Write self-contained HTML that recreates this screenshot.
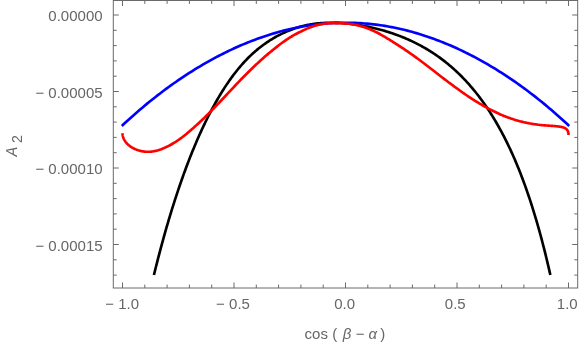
<!DOCTYPE html>
<html><head><meta charset="utf-8"><title>plot</title>
<style>html,body{margin:0;padding:0;background:#fff;}svg{display:block;will-change:transform;}text{font-family:"Liberation Sans",sans-serif;white-space:pre;}</style></head>
<body><svg width="582" height="345" viewBox="0 0 582 345">
<rect width="582" height="345" fill="#fff"/>
<rect x="113.3" y="0.5" width="464.40000000000003" height="287.5" fill="none" stroke="#6a6a6a" stroke-width="1"/>
<path d="M122.50 288.0 v-5.5 M122.50 0.5 v5.5 M144.80 288.0 v-3.4 M144.80 0.5 v3.4 M167.10 288.0 v-3.4 M167.10 0.5 v3.4 M189.40 288.0 v-3.4 M189.40 0.5 v3.4 M211.70 288.0 v-3.4 M211.70 0.5 v3.4 M234.00 288.0 v-5.5 M234.00 0.5 v5.5 M256.30 288.0 v-3.4 M256.30 0.5 v3.4 M278.60 288.0 v-3.4 M278.60 0.5 v3.4 M300.90 288.0 v-3.4 M300.90 0.5 v3.4 M323.20 288.0 v-3.4 M323.20 0.5 v3.4 M345.50 288.0 v-5.5 M345.50 0.5 v5.5 M367.80 288.0 v-3.4 M367.80 0.5 v3.4 M390.10 288.0 v-3.4 M390.10 0.5 v3.4 M412.40 288.0 v-3.4 M412.40 0.5 v3.4 M434.70 288.0 v-3.4 M434.70 0.5 v3.4 M457.00 288.0 v-5.5 M457.00 0.5 v5.5 M479.30 288.0 v-3.4 M479.30 0.5 v3.4 M501.60 288.0 v-3.4 M501.60 0.5 v3.4 M523.90 288.0 v-3.4 M523.90 0.5 v3.4 M546.20 288.0 v-3.4 M546.20 0.5 v3.4 M568.50 288.0 v-5.5 M568.50 0.5 v5.5 M113.3 15.00 h5.5 M577.7 15.00 h-5.5 M113.3 30.30 h3.4 M577.7 30.30 h-3.4 M113.3 45.60 h3.4 M577.7 45.60 h-3.4 M113.3 60.90 h3.4 M577.7 60.90 h-3.4 M113.3 76.20 h3.4 M577.7 76.20 h-3.4 M113.3 91.50 h5.5 M577.7 91.50 h-5.5 M113.3 106.80 h3.4 M577.7 106.80 h-3.4 M113.3 122.10 h3.4 M577.7 122.10 h-3.4 M113.3 137.40 h3.4 M577.7 137.40 h-3.4 M113.3 152.70 h3.4 M577.7 152.70 h-3.4 M113.3 168.00 h5.5 M577.7 168.00 h-5.5 M113.3 183.30 h3.4 M577.7 183.30 h-3.4 M113.3 198.60 h3.4 M577.7 198.60 h-3.4 M113.3 213.90 h3.4 M577.7 213.90 h-3.4 M113.3 229.20 h3.4 M577.7 229.20 h-3.4 M113.3 244.50 h5.5 M577.7 244.50 h-5.5 M113.3 259.80 h3.4 M577.7 259.80 h-3.4 M113.3 275.10 h3.4 M577.7 275.10 h-3.4" fill="none" stroke="#6a6a6a" stroke-width="1"/>
<path d="M153.92 275.00 L154.91 270.97 L155.90 266.99 L156.90 263.06 L157.89 259.18 L158.88 255.35 L159.88 251.57 L160.87 247.84 L161.87 244.16 L162.86 240.53 L163.85 236.95 L164.85 233.41 L165.84 229.91 L166.83 226.46 L167.83 223.06 L168.82 219.70 L169.81 216.38 L170.81 213.10 L171.80 209.87 L172.79 206.68 L173.79 203.53 L174.78 200.42 L175.78 197.35 L176.77 194.32 L177.76 191.33 L178.76 188.37 L179.75 185.46 L180.74 182.58 L181.74 179.74 L182.73 176.94 L183.72 174.17 L184.72 171.44 L185.71 168.74 L186.70 166.08 L187.70 163.46 L188.69 160.86 L189.69 158.31 L190.68 155.78 L191.67 153.29 L192.67 150.84 L193.66 148.41 L194.65 146.02 L195.65 143.66 L196.64 141.33 L197.63 139.03 L198.63 136.77 L199.62 134.53 L200.62 132.33 L201.61 130.15 L202.60 128.01 L203.60 125.90 L204.59 123.81 L205.58 121.75 L206.58 119.73 L207.57 117.73 L208.56 115.76 L209.56 113.81 L210.55 111.90 L211.54 110.01 L212.54 108.15 L213.53 106.32 L214.53 104.52 L215.52 102.74 L216.51 100.99 L217.51 99.26 L218.50 97.56 L219.49 95.89 L220.49 94.24 L221.48 92.62 L222.47 91.02 L223.47 89.45 L224.46 87.90 L225.45 86.38 L226.45 84.88 L227.44 83.41 L228.44 81.96 L229.43 80.53 L230.42 79.13 L231.42 77.75 L232.41 76.40 L233.40 75.07 L234.40 73.76 L235.39 72.47 L236.38 71.21 L237.38 69.97 L238.37 68.75 L239.36 67.56 L240.36 66.39 L241.35 65.24 L242.35 64.11 L243.34 63.00 L244.33 61.91 L245.33 60.85 L246.32 59.80 L247.31 58.78 L248.31 57.77 L249.30 56.79 L250.29 55.83 L251.29 54.88 L252.28 53.96 L253.27 53.05 L254.27 52.16 L255.26 51.29 L256.26 50.44 L257.25 49.61 L258.24 48.79 L259.24 47.99 L260.23 47.21 L261.22 46.45 L262.22 45.70 L263.21 44.96 L264.20 44.24 L265.20 43.54 L266.19 42.85 L267.18 42.18 L268.18 41.52 L269.17 40.87 L270.17 40.24 L271.16 39.62 L272.15 39.01 L273.15 38.42 L274.14 37.84 L275.13 37.27 L276.13 36.71 L277.12 36.17 L278.11 35.64 L279.11 35.12 L280.10 34.61 L281.09 34.11 L282.09 33.63 L283.08 33.16 L284.08 32.69 L285.07 32.24 L286.06 31.80 L287.06 31.38 L288.05 30.96 L289.04 30.55 L290.04 30.16 L291.03 29.77 L292.02 29.40 L293.02 29.04 L294.01 28.69 L295.00 28.35 L296.00 28.02 L296.99 27.71 L297.99 27.40 L298.98 27.10 L299.97 26.82 L300.97 26.54 L301.96 26.28 L302.95 26.03 L303.95 25.79 L304.94 25.55 L305.93 25.33 L306.93 25.12 L307.92 24.92 L308.92 24.73 L309.91 24.55 L310.90 24.37 L311.90 24.21 L312.89 24.06 L313.88 23.92 L314.88 23.78 L315.87 23.66 L316.86 23.54 L317.86 23.43 L318.85 23.33 L319.84 23.24 L320.84 23.16 L321.83 23.08 L322.83 23.02 L323.82 22.96 L324.81 22.91 L325.81 22.87 L326.80 22.83 L327.79 22.80 L328.79 22.78 L329.78 22.76 L330.77 22.76 L331.77 22.76 L332.76 22.76 L333.75 22.78 L334.75 22.79 L335.74 22.82 L336.74 22.85 L337.73 22.89 L338.72 22.93 L339.72 22.98 L340.71 23.04 L341.70 23.10 L342.70 23.17 L343.69 23.24 L344.68 23.32 L345.68 23.41 L346.67 23.50 L347.66 23.60 L348.66 23.70 L349.65 23.80 L350.65 23.92 L351.64 24.04 L352.63 24.16 L353.63 24.29 L354.62 24.42 L355.61 24.56 L356.61 24.70 L357.60 24.85 L358.59 25.01 L359.59 25.17 L360.58 25.33 L361.57 25.50 L362.57 25.68 L363.56 25.86 L364.56 26.04 L365.55 26.24 L366.54 26.43 L367.54 26.63 L368.53 26.84 L369.52 27.05 L370.52 27.26 L371.51 27.49 L372.50 27.71 L373.50 27.94 L374.49 28.18 L375.48 28.42 L376.48 28.67 L377.47 28.92 L378.47 29.18 L379.46 29.44 L380.45 29.71 L381.45 29.98 L382.44 30.26 L383.43 30.54 L384.43 30.83 L385.42 31.13 L386.41 31.43 L387.41 31.74 L388.40 32.05 L389.39 32.37 L390.39 32.69 L391.38 33.02 L392.38 33.35 L393.37 33.69 L394.36 34.04 L395.36 34.39 L396.35 34.75 L397.34 35.12 L398.34 35.49 L399.33 35.87 L400.32 36.25 L401.32 36.64 L402.31 37.04 L403.30 37.44 L404.30 37.85 L405.29 38.27 L406.29 38.70 L407.28 39.13 L408.27 39.56 L409.27 40.01 L410.26 40.46 L411.25 40.92 L412.25 41.39 L413.24 41.86 L414.23 42.35 L415.23 42.84 L416.22 43.33 L417.22 43.84 L418.21 44.35 L419.20 44.87 L420.20 45.40 L421.19 45.94 L422.18 46.49 L423.18 47.04 L424.17 47.61 L425.16 48.18 L426.16 48.76 L427.15 49.35 L428.14 49.95 L429.14 50.56 L430.13 51.18 L431.13 51.81 L432.12 52.44 L433.11 53.09 L434.11 53.75 L435.10 54.41 L436.09 55.09 L437.09 55.78 L438.08 56.48 L439.07 57.19 L440.07 57.91 L441.06 58.64 L442.05 59.38 L443.05 60.13 L444.04 60.90 L445.04 61.67 L446.03 62.46 L447.02 63.26 L448.02 64.07 L449.01 64.90 L450.00 65.73 L451.00 66.58 L451.99 67.44 L452.98 68.32 L453.98 69.20 L454.97 70.11 L455.96 71.02 L456.96 71.95 L457.95 72.89 L458.95 73.85 L459.94 74.82 L460.93 75.80 L461.93 76.80 L462.92 77.82 L463.91 78.85 L464.91 79.90 L465.90 80.96 L466.89 82.03 L467.89 83.13 L468.88 84.24 L469.87 85.37 L470.87 86.51 L471.86 87.67 L472.86 88.85 L473.85 90.05 L474.84 91.26 L475.84 92.50 L476.83 93.75 L477.82 95.02 L478.82 96.31 L479.81 97.62 L480.80 98.95 L481.80 100.30 L482.79 101.67 L483.78 103.06 L484.78 104.48 L485.77 105.91 L486.77 107.37 L487.76 108.85 L488.75 110.35 L489.75 111.88 L490.74 113.43 L491.73 115.00 L492.73 116.60 L493.72 118.22 L494.71 119.87 L495.71 121.55 L496.70 123.25 L497.69 124.98 L498.69 126.74 L499.68 128.52 L500.68 130.34 L501.67 132.18 L502.66 134.05 L503.66 135.95 L504.65 137.89 L505.64 139.85 L506.64 141.85 L507.63 143.88 L508.62 145.95 L509.62 148.04 L510.61 150.18 L511.60 152.35 L512.60 154.55 L513.59 156.79 L514.59 159.07 L515.58 161.39 L516.57 163.75 L517.57 166.15 L518.56 168.59 L519.55 171.07 L520.55 173.60 L521.54 176.17 L522.53 178.78 L523.53 181.44 L524.52 184.15 L525.52 186.91 L526.51 189.71 L527.50 192.56 L528.50 195.47 L529.49 198.43 L530.48 201.44 L531.48 204.50 L532.47 207.63 L533.46 210.80 L534.46 214.04 L535.45 217.34 L536.44 220.70 L537.44 224.12 L538.43 227.61 L539.43 231.16 L540.42 234.77 L541.41 238.46 L542.41 242.22 L543.40 246.05 L544.39 249.95 L545.39 253.93 L546.38 257.98 L547.37 262.11 L548.37 266.32 L549.36 270.62 L550.35 275.00" fill="none" stroke="#000" stroke-width="2.65" stroke-linejoin="round"/>
<path d="M121.83 125.94 L124.08 123.84 L126.33 121.76 L128.57 119.70 L130.82 117.67 L133.07 115.67 L135.32 113.68 L137.57 111.73 L139.81 109.79 L142.06 107.89 L144.31 106.00 L146.56 104.14 L148.81 102.30 L151.05 100.48 L153.30 98.69 L155.55 96.92 L157.80 95.17 L160.05 93.44 L162.29 91.74 L164.54 90.05 L166.79 88.39 L169.04 86.75 L171.29 85.14 L173.53 83.54 L175.78 81.96 L178.03 80.41 L180.28 78.88 L182.53 77.37 L184.77 75.88 L187.02 74.41 L189.27 72.96 L191.52 71.53 L193.76 70.13 L196.01 68.74 L198.26 67.38 L200.51 66.03 L202.76 64.71 L205.00 63.40 L207.25 62.12 L209.50 60.86 L211.75 59.62 L214.00 58.40 L216.24 57.19 L218.49 56.01 L220.74 54.85 L222.99 53.71 L225.24 52.59 L227.48 51.49 L229.73 50.42 L231.98 49.36 L234.23 48.32 L236.48 47.30 L238.72 46.30 L240.97 45.33 L243.22 44.37 L245.47 43.43 L247.72 42.52 L249.96 41.62 L252.21 40.75 L254.46 39.89 L256.71 39.06 L258.95 38.24 L261.20 37.45 L263.45 36.68 L265.70 35.92 L267.95 35.19 L270.19 34.48 L272.44 33.79 L274.69 33.12 L276.94 32.47 L279.19 31.84 L281.43 31.24 L283.68 30.65 L285.93 30.08 L288.18 29.54 L290.43 29.01 L292.67 28.51 L294.92 28.03 L297.17 27.56 L299.42 27.12 L301.67 26.70 L303.91 26.30 L306.16 25.92 L308.41 25.56 L310.66 25.23 L312.91 24.91 L315.15 24.62 L317.40 24.34 L319.65 24.09 L321.90 23.86 L324.14 23.65 L326.39 23.46 L328.64 23.29 L330.89 23.14 L333.14 23.02 L335.38 22.91 L337.63 22.83 L339.88 22.76 L342.13 22.72 L344.38 22.70 L346.62 22.70 L348.87 22.72 L351.12 22.76 L353.37 22.83 L355.62 22.91 L357.86 23.02 L360.11 23.14 L362.36 23.29 L364.61 23.46 L366.86 23.65 L369.10 23.86 L371.35 24.09 L373.60 24.34 L375.85 24.62 L378.09 24.91 L380.34 25.23 L382.59 25.56 L384.84 25.92 L387.09 26.30 L389.33 26.70 L391.58 27.12 L393.83 27.56 L396.08 28.03 L398.33 28.51 L400.57 29.01 L402.82 29.54 L405.07 30.08 L407.32 30.65 L409.57 31.24 L411.81 31.84 L414.06 32.47 L416.31 33.12 L418.56 33.79 L420.81 34.48 L423.05 35.19 L425.30 35.92 L427.55 36.68 L429.80 37.45 L432.05 38.24 L434.29 39.06 L436.54 39.89 L438.79 40.75 L441.04 41.62 L443.28 42.52 L445.53 43.43 L447.78 44.37 L450.03 45.33 L452.28 46.30 L454.52 47.30 L456.77 48.32 L459.02 49.36 L461.27 50.42 L463.52 51.49 L465.76 52.59 L468.01 53.71 L470.26 54.85 L472.51 56.01 L474.76 57.19 L477.00 58.40 L479.25 59.62 L481.50 60.86 L483.75 62.12 L486.00 63.40 L488.24 64.71 L490.49 66.03 L492.74 67.38 L494.99 68.74 L497.24 70.13 L499.48 71.53 L501.73 72.96 L503.98 74.41 L506.23 75.88 L508.47 77.37 L510.72 78.88 L512.97 80.41 L515.22 81.96 L517.47 83.54 L519.71 85.14 L521.96 86.75 L524.21 88.39 L526.46 90.05 L528.71 91.74 L530.95 93.44 L533.20 95.17 L535.45 96.92 L537.70 98.69 L539.95 100.48 L542.19 102.30 L544.44 104.14 L546.69 106.00 L548.94 107.89 L551.19 109.79 L553.43 111.73 L555.68 113.68 L557.93 115.67 L560.18 117.67 L562.43 119.70 L564.67 121.76 L566.92 123.84 L569.17 125.94" fill="none" stroke="#0000ff" stroke-width="2.65" stroke-linejoin="round"/>
<path d="M122.50 133.15 L122.50 133.48 L122.52 133.81 L122.54 134.14 L122.57 134.47 L122.61 134.80 L122.66 135.13 L122.72 135.47 L122.78 135.80 L122.86 136.13 L122.94 136.46 L123.03 136.80 L123.14 137.13 L123.25 137.46 L123.37 137.79 L123.49 138.12 L123.63 138.45 L123.78 138.78 L123.93 139.11 L124.09 139.44 L124.27 139.77 L124.45 140.09 L124.64 140.41 L124.83 140.73 L125.04 141.05 L125.26 141.37 L125.48 141.69 L125.71 142.00 L125.96 142.31 L126.21 142.62 L126.47 142.93 L126.73 143.23 L127.01 143.53 L127.30 143.83 L127.59 144.12 L127.89 144.42 L128.20 144.70 L128.52 144.99 L128.85 145.27 L129.19 145.55 L129.53 145.82 L129.89 146.09 L130.25 146.35 L130.62 146.62 L131.00 146.87 L131.39 147.12 L131.79 147.37 L132.19 147.61 L132.61 147.85 L133.03 148.08 L133.46 148.31 L133.90 148.53 L134.34 148.75 L134.80 148.96 L135.26 149.16 L135.74 149.36 L136.22 149.56 L136.71 149.74 L137.20 149.93 L137.71 150.10 L138.22 150.27 L138.74 150.43 L139.27 150.58 L139.81 150.73 L140.36 150.87 L140.91 151.00 L141.48 151.12 L142.05 151.23 L142.63 151.34 L143.21 151.43 L143.81 151.52 L144.41 151.59 L145.02 151.65 L145.64 151.70 L146.27 151.74 L146.90 151.77 L147.54 151.78 L148.19 151.78 L148.85 151.77 L149.52 151.75 L150.19 151.71 L150.87 151.66 L151.56 151.59 L152.26 151.51 L152.96 151.41 L153.68 151.29 L154.40 151.16 L155.12 151.02 L155.86 150.85 L156.60 150.67 L157.35 150.47 L158.11 150.26 L158.87 150.02 L159.64 149.77 L160.42 149.49 L161.21 149.21 L162.01 148.90 L162.81 148.59 L163.62 148.25 L164.43 147.90 L165.25 147.54 L166.08 147.16 L166.92 146.76 L167.77 146.34 L168.62 145.91 L169.48 145.47 L170.34 145.00 L171.21 144.52 L172.09 144.02 L172.98 143.50 L173.87 142.97 L174.77 142.41 L175.68 141.84 L176.59 141.24 L177.51 140.63 L178.44 139.99 L179.37 139.34 L180.31 138.66 L181.26 137.96 L182.21 137.25 L183.17 136.51 L184.14 135.76 L185.11 134.98 L186.09 134.19 L187.07 133.39 L188.06 132.56 L189.06 131.72 L190.06 130.86 L191.07 129.98 L192.09 129.09 L193.11 128.19 L194.14 127.27 L195.17 126.34 L196.21 125.39 L197.26 124.43 L198.31 123.46 L199.37 122.48 L200.43 121.48 L201.50 120.47 L202.58 119.45 L203.66 118.42 L204.74 117.36 L205.84 116.30 L206.93 115.22 L208.04 114.13 L209.14 113.02 L210.26 111.90 L211.38 110.77 L212.50 109.62 L213.63 108.46 L214.76 107.29 L215.90 106.11 L217.05 104.91 L218.20 103.70 L219.36 102.49 L220.52 101.26 L221.68 100.02 L222.85 98.78 L224.03 97.52 L225.21 96.26 L226.39 95.00 L227.58 93.72 L228.77 92.44 L229.97 91.16 L231.18 89.87 L232.38 88.58 L233.59 87.28 L234.81 85.99 L236.03 84.69 L237.26 83.39 L238.49 82.11 L239.72 80.82 L240.96 79.54 L242.20 78.26 L243.45 76.99 L244.70 75.72 L245.95 74.46 L247.21 73.20 L248.47 71.94 L249.74 70.69 L251.01 69.44 L252.28 68.21 L253.56 66.98 L254.84 65.77 L256.12 64.56 L257.41 63.36 L258.70 62.17 L260.00 60.99 L261.30 59.81 L262.60 58.65 L263.90 57.50 L265.21 56.36 L266.52 55.24 L267.84 54.13 L269.16 53.03 L270.48 51.94 L271.80 50.86 L273.13 49.78 L274.46 48.71 L275.79 47.64 L277.12 46.59 L278.46 45.55 L279.80 44.53 L281.14 43.53 L282.49 42.54 L283.84 41.57 L285.19 40.63 L286.54 39.70 L287.90 38.80 L289.25 37.92 L290.61 37.07 L291.98 36.25 L293.34 35.46 L294.71 34.71 L296.07 33.97 L297.44 33.25 L298.82 32.56 L300.19 31.87 L301.56 31.19 L302.94 30.52 L304.32 29.87 L305.70 29.25 L307.08 28.64 L308.47 28.06 L309.85 27.52 L311.24 27.00 L312.63 26.51 L314.02 26.04 L315.41 25.60 L316.80 25.21 L318.19 24.85 L319.59 24.53 L320.98 24.25 L322.38 24.00 L323.77 23.79 L325.17 23.62 L326.57 23.49 L327.97 23.38 L329.37 23.29 L330.77 23.23 L332.17 23.19 L333.57 23.17 L334.97 23.16 L336.38 23.17 L337.78 23.18 L339.18 23.21 L340.59 23.25 L341.99 23.30 L343.39 23.37 L344.80 23.46 L346.20 23.56 L347.61 23.67 L349.01 23.79 L350.41 23.96 L351.82 24.17 L353.22 24.42 L354.62 24.70 L356.03 25.00 L357.43 25.32 L358.83 25.66 L360.23 26.03 L361.63 26.42 L363.03 26.84 L364.43 27.28 L365.83 27.75 L367.23 28.25 L368.62 28.78 L370.02 29.33 L371.41 29.92 L372.81 30.53 L374.20 31.18 L375.59 31.85 L376.98 32.55 L378.37 33.28 L379.76 34.03 L381.15 34.80 L382.53 35.58 L383.92 36.39 L385.30 37.20 L386.68 38.03 L388.06 38.87 L389.44 39.72 L390.81 40.57 L392.18 41.43 L393.56 42.29 L394.93 43.15 L396.29 44.03 L397.66 44.90 L399.02 45.79 L400.39 46.68 L401.75 47.57 L403.10 48.47 L404.46 49.38 L405.81 50.29 L407.16 51.20 L408.51 52.13 L409.86 53.06 L411.20 54.00 L412.54 54.94 L413.88 55.89 L415.21 56.85 L416.54 57.81 L417.87 58.78 L419.20 59.76 L420.52 60.74 L421.84 61.73 L423.16 62.72 L424.48 63.71 L425.79 64.71 L427.10 65.71 L428.40 66.71 L429.70 67.71 L431.00 68.72 L432.30 69.72 L433.59 70.73 L434.88 71.73 L436.16 72.73 L437.44 73.73 L438.72 74.73 L439.99 75.73 L441.26 76.72 L442.53 77.69 L443.79 78.66 L445.05 79.62 L446.30 80.57 L447.55 81.51 L448.80 82.44 L450.04 83.36 L451.28 84.28 L452.51 85.19 L453.74 86.10 L454.97 87.00 L456.19 87.89 L457.41 88.78 L458.62 89.66 L459.82 90.53 L461.03 91.39 L462.23 92.24 L463.42 93.08 L464.61 93.91 L465.79 94.72 L466.97 95.52 L468.15 96.31 L469.32 97.09 L470.48 97.85 L471.64 98.60 L472.80 99.34 L473.95 100.08 L475.10 100.80 L476.24 101.51 L477.37 102.21 L478.50 102.89 L479.62 103.57 L480.74 104.23 L481.86 104.88 L482.96 105.52 L484.07 106.15 L485.16 106.77 L486.26 107.37 L487.34 107.97 L488.42 108.55 L489.50 109.12 L490.57 109.68 L491.63 110.23 L492.69 110.77 L493.74 111.29 L494.79 111.80 L495.83 112.31 L496.86 112.80 L497.89 113.29 L498.91 113.77 L499.93 114.23 L500.94 114.68 L501.94 115.12 L502.94 115.54 L503.93 115.95 L504.91 116.34 L505.89 116.72 L506.86 117.08 L507.83 117.43 L508.79 117.77 L509.74 118.10 L510.69 118.43 L511.63 118.75 L512.56 119.06 L513.49 119.36 L514.41 119.65 L515.32 119.93 L516.23 120.21 L517.13 120.47 L518.02 120.73 L518.91 120.97 L519.79 121.20 L520.66 121.43 L521.52 121.64 L522.38 121.85 L523.23 122.05 L524.08 122.24 L524.92 122.43 L525.75 122.61 L526.57 122.79 L527.38 122.96 L528.19 123.12 L528.99 123.28 L529.79 123.43 L530.58 123.57 L531.36 123.71 L532.13 123.84 L532.89 123.96 L533.65 124.08 L534.40 124.20 L535.14 124.31 L535.88 124.42 L536.60 124.52 L537.32 124.61 L538.04 124.71 L538.74 124.79 L539.44 124.88 L540.13 124.95 L540.81 125.02 L541.48 125.09 L542.15 125.16 L542.81 125.21 L543.46 125.27 L544.10 125.32 L544.73 125.37 L545.36 125.42 L545.98 125.47 L546.59 125.51 L547.19 125.55 L547.79 125.59 L548.37 125.63 L548.95 125.67 L549.52 125.70 L550.09 125.74 L550.64 125.78 L551.19 125.81 L551.73 125.85 L552.26 125.89 L552.78 125.92 L553.29 125.96 L553.80 126.00 L554.29 126.04 L554.78 126.08 L555.26 126.13 L555.74 126.17 L556.20 126.22 L556.66 126.26 L557.10 126.31 L557.54 126.36 L557.97 126.41 L558.39 126.46 L558.81 126.51 L559.21 126.57 L559.61 126.63 L560.00 126.69 L560.38 126.76 L560.75 126.82 L561.11 126.89 L561.47 126.97 L561.81 127.04 L562.15 127.13 L562.48 127.21 L562.80 127.30 L563.11 127.39 L563.41 127.49 L563.70 127.59 L563.99 127.70 L564.27 127.82 L564.53 127.93 L564.79 128.06 L565.04 128.19 L565.29 128.32 L565.52 128.46 L565.74 128.61 L565.96 128.76 L566.17 128.93 L566.36 129.09 L566.55 129.27 L566.73 129.45 L566.91 129.64 L567.07 129.84 L567.22 130.04 L567.37 130.25 L567.51 130.47 L567.63 130.70 L567.75 130.94 L567.86 131.19 L567.97 131.44 L568.06 131.71 L568.14 131.98 L568.22 132.26 L568.28 132.56 L568.34 132.86 L568.39 133.17 L568.43 133.50 L568.46 133.83 L568.48 134.18 L568.50 134.53 L568.50 134.90" fill="none" stroke="#ff0000" stroke-width="2.65" stroke-linejoin="round"/>
<g font-family="Liberation Sans, sans-serif" font-size="15" fill="#666666"><text x="102.6" y="21.45" text-anchor="end">0.00000</text><text x="102.6" y="97.95" text-anchor="end">− 0.00005</text><text x="102.6" y="174.45" text-anchor="end">− 0.00010</text><text x="102.6" y="250.95" text-anchor="end">− 0.00015</text><text x="122.10" y="309.2" text-anchor="middle">− 1.0</text><text x="233.00" y="309.2" text-anchor="middle">− 0.5</text><text x="344.70" y="309.2" text-anchor="middle">0.0</text><text x="455.30" y="309.2" text-anchor="middle">0.5</text><text x="567.30" y="309.2" text-anchor="middle">1.0</text><text x="304.6" y="339.3">cos</text><text x="332.2" y="339.3">(</text><text x="342.8" y="339.3" font-style="italic">β</text><text x="355.7" y="339.3">−</text><text x="368.6" y="339.3" font-style="italic">α</text><text x="380.3" y="339.3">)</text><text transform="translate(16.9,156.6) rotate(-90.05) scale(0.92,1)" font-size="15.8" font-style="italic">A</text><text transform="translate(21.8,143.1) rotate(-90)" font-size="14.3">2</text></g>
</svg></body></html>
